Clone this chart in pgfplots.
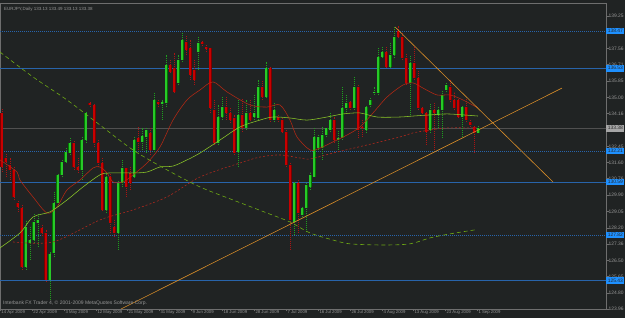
\documentclass[border=0pt]{standalone}
\usepackage{pgfplots}
\pgfplotsset{compat=1.18}
\usepackage{pgfplotstable}
\usepackage{fontspec}
\setmainfont{Liberation Sans}
\definecolor{bg}{RGB}{32,35,35}
\definecolor{frame}{RGB}{110,110,110}
\definecolor{txt}{RGB}{150,150,150}
\definecolor{bullbody}{RGB}{40,200,40}
\definecolor{bulledge}{RGB}{0,120,0}
\definecolor{bullwick}{RGB}{30,160,30}
\definecolor{bearbody}{RGB}{200,0,0}
\definecolor{bearedge}{RGB}{120,0,0}
\definecolor{bearwick}{RGB}{170,20,20}
\definecolor{hline}{RGB}{40,100,170}
\definecolor{hbox}{RGB}{30,144,255}
\definecolor{pline}{RGB}{80,80,80}
\definecolor{mared}{RGB}{180,40,20}
\definecolor{magreen}{RGB}{140,200,40}
\definecolor{mareddash}{RGB}{170,40,30}
\definecolor{magreendash}{RGB}{110,170,20}
\definecolor{trend}{RGB}{215,140,40}
\newcommand{\tf}{\fontsize{4.9}{5.5}\selectfont}
\newcommand{\df}{\fontsize{4.3}{5}\selectfont}
\newcommand{\bl}[1]{{\setlength{\fboxsep}{1pt}\colorbox{hbox}{\rule[-1pt]{0pt}{4.8pt}\makebox[15.5pt][l]{\hspace{0.8pt}\color{black!85}#1}}}}
\newcommand{\gl}[1]{{\setlength{\fboxsep}{1pt}\colorbox{black!35}{\rule[-1pt]{0pt}{4.8pt}\makebox[15.5pt][l]{\hspace{0.8pt}\color{black!85}#1}}}}

\pgfplotstableread{
i o h l c
0 134.19 134.45 131.11 131.37
1 131.84 132.10 130.85 131.63
2 131.48 131.84 130.69 131.22
3 131.22 131.37 129.65 129.81
4 129.49 129.65 129.03 129.29
5 129.23 129.39 126.00 126.16
10 128.19 128.35 127.77 127.93
11 127.93 128.09 125.37 125.48
18 132.62 132.78 131.22 131.37
19 131.37 131.89 131.06 131.22
22 134.71 134.76 134.50 134.61
23 134.61 134.71 132.42 132.62
24 132.62 132.78 131.37 131.58
25 131.58 131.89 129.08 129.13
27 130.85 131.06 127.93 128.45
28 128.24 128.61 127.72 127.93
31 131.32 131.37 129.81 130.33
32 131.06 131.37 130.17 130.54
34 132.89 133.46 132.26 132.68
37 133.15 133.41 132.00 132.26
39 134.76 134.87 134.50 134.66
42 136.69 136.95 136.28 136.33
43 136.54 137.32 135.23 135.29
46 137.89 138.26 137.22 137.48
47 137.58 138.00 135.91 136.17
48 136.43 136.95 135.65 135.91
50 137.89 138.00 137.69 137.79
51 137.63 137.74 137.37 137.53
52 137.58 137.63 134.19 134.45
53 134.35 134.87 132.52 132.62
56 134.50 135.02 133.82 134.19
57 134.19 134.50 133.67 133.82
58 133.93 134.09 132.00 132.10
60 134.09 134.97 133.20 133.41
62 134.19 134.87 133.77 133.82
65 135.55 135.91 134.87 135.02
67 136.54 136.59 133.72 133.82
69 133.98 134.09 133.72 133.82
70 133.82 133.93 133.15 133.20
71 133.20 133.30 131.37 131.48
72 131.48 131.58 127.04 128.61
74 130.54 130.69 127.93 128.97
83 133.82 133.98 132.62 132.78
87 134.76 134.87 134.35 134.45
89 135.55 135.65 132.89 133.30
90 133.46 133.82 132.94 133.41
96 137.37 137.63 136.54 136.59
99 138.47 138.73 138.10 138.15
100 138.15 138.36 136.95 137.06
101 137.06 137.32 135.65 135.76
103 136.80 137.63 135.91 136.02
104 136.02 136.43 134.35 134.45
105 134.45 134.50 134.14 134.19
106 134.19 134.24 132.52 133.20
108 134.35 134.71 132.26 134.19
112 135.55 135.91 134.76 134.87
113 134.87 135.29 134.35 134.45
114 134.87 134.97 133.93 133.98
116 134.50 134.97 133.72 133.82
117 133.72 133.82 133.46 133.56
118 133.46 133.56 132.10 133.15
}\bear

\pgfplotstableread{
i o h l c
6 126.16 128.61 126.00 128.24
7 127.41 128.24 126.52 127.56
8 127.56 128.97 127.41 128.50
9 128.45 128.97 127.20 128.61
12 125.48 126.94 124.43 126.83
13 126.89 130.07 126.68 129.49
14 129.49 131.06 129.29 130.96
15 130.96 131.74 130.85 131.63
16 131.63 132.36 131.58 132.16
17 132.10 132.89 132.00 132.62
20 131.22 132.94 130.69 132.78
21 132.78 134.24 132.62 134.19
26 129.13 131.06 128.97 130.85
29 127.93 130.69 127.04 130.54
30 130.54 131.74 130.33 131.32
33 130.85 132.94 130.80 132.78
35 132.68 133.41 132.26 132.99
36 132.94 133.41 132.10 133.30
38 132.26 135.29 132.16 134.87
40 134.66 134.87 133.82 134.76
41 134.71 137.22 134.50 136.69
44 135.76 137.22 135.65 136.95
45 136.95 138.36 136.85 138.00
49 137.37 138.15 136.43 137.84
54 132.62 134.61 132.52 133.98
55 133.98 135.02 133.82 134.50
59 132.16 134.87 131.37 134.09
61 133.41 134.87 133.30 134.19
63 133.98 135.13 133.82 134.19
64 133.93 135.91 133.82 135.55
66 135.02 136.85 134.97 136.54
68 133.82 134.71 133.72 134.35
73 128.50 130.59 127.83 130.54
75 128.87 129.29 128.76 129.23
76 129.23 130.54 127.98 130.43
77 130.33 131.11 130.17 130.96
78 130.85 133.41 130.85 132.94
79 132.36 133.04 132.26 132.94
80 132.36 133.46 131.74 133.04
81 133.04 133.46 132.94 133.41
82 133.30 134.19 133.20 133.82
84 132.78 133.30 132.26 132.89
85 132.89 135.55 132.78 134.45
86 134.45 135.13 134.24 134.71
88 134.45 136.07 134.35 135.55
91 133.30 134.61 133.15 134.50
92 134.61 135.02 134.50 134.87
93 135.23 135.55 135.13 135.29
94 135.23 137.58 135.13 137.11
95 137.11 137.63 137.06 137.37
97 136.59 137.89 136.54 137.22
98 137.22 138.68 137.06 138.15
102 135.76 137.22 134.09 136.80
107 133.30 134.71 133.15 134.35
109 134.09 134.50 133.41 134.35
110 134.35 135.39 132.89 135.13
111 135.39 135.76 135.29 135.65
115 133.98 134.61 132.94 134.50
119 133.13 133.49 133.13 133.38
}\bull

\begin{document}
\begin{tikzpicture}
\useasboundingbox (0,0) rectangle (625pt,318pt);
\fill[bg] (0,0) rectangle (625pt,318pt);
\begin{axis}[
  at={(0pt,9pt)}, anchor=south west,
  width=606pt, height=306pt, scale only axis,
  xmin=-0.5, xmax=151, ymin=123.96, ymax=139.93,
  axis line style={frame, line width=0.6pt},
  clip=true,
  tick align=outside,
  major tick length=2.5pt,
  tick style={frame, line width=0.5pt},
  ytick pos=right, xtick pos=bottom,
  yticklabel pos=right,
  ytick={139.25,137.56,136.71,135.86,135.00,134.16,132.45,131.60,130.76,129.90,129.05,128.20,127.36,126.50,125.65,124.80,123.96},
  yticklabels={139.25,137.56,136.71,135.85,135.00,134.16,132.45,131.60,130.76,129.90,129.05,128.20,127.36,126.50,125.65,124.80,123.96},
  yticklabel style={font=\tf, color=txt, anchor=west, inner sep=0.5pt, xshift=-0.5pt},
  xtick={-0.5,7.5,15.5,23.5,31.25,39.25,47.25,55,63,71,79,87,95,102.75,110.75,118.75},
  xticklabels={14 Apr 2009,22 Apr 2009,3 May 2009,12 May 2009,21 May 2009,31 May 2009,9 Jun 2009,18 Jun 2009,28 Jun 2009,7 Jul 2009,16 Jul 2009,26 Jul 2009,4 Aug 2009,13 Aug 2009,23 Aug 2009,1 Sep 2009},
  xticklabel style={font=\df, color=txt, anchor=north west, inner sep=0.5pt, xshift=0.8pt, yshift=1.5pt},
  extra y ticks={138.47,136.53,133.38,132.21,130.59,127.82,125.43},
  extra y tick labels={\bl{138.47},\bl{136.53},\gl{133.38},\bl{132.21},\bl{130.59},\bl{127.82},\bl{125.43}},
  extra y tick style={major tick length=0pt, yticklabel style={font=\tf, inner sep=0pt, xshift=0.3pt}},
  every axis plot/.append style={forget plot},
  axis background/.style={fill=bg},
]
% horizontal levels
\addplot[hline, line width=0.7pt, dash pattern=on 1pt off 1pt] coordinates {(-1,138.47) (152,138.47)};
\addplot[hline, line width=0.7pt] coordinates {(-1,136.53) (152,136.53)};
\addplot[pline, line width=0.6pt] coordinates {(-1,133.38) (152,133.38)};
\addplot[hline, line width=0.7pt, dash pattern=on 1pt off 1pt] coordinates {(-1,132.21) (152,132.21)};
\addplot[hline, line width=0.7pt] coordinates {(-1,130.59) (152,130.59)};
\addplot[hline, line width=0.7pt, dash pattern=on 1pt off 1pt] coordinates {(-1,127.82) (152,127.82)};
\addplot[hline, line width=0.7pt] coordinates {(-1,125.43) (152,125.43)};
% wicks
\addplot[draw=none, mark=none, error bars/.cd, y dir=plus, y explicit, error mark=none,
  error bar style={draw=bullwick, line width=0.8pt, dash pattern=on 1pt off 1pt}]
  table[x=i, y=l, y error plus expr=\thisrow{h}-\thisrow{l}] {\bull};
\addplot[draw=none, mark=none, error bars/.cd, y dir=plus, y explicit, error mark=none,
  error bar style={draw=bearwick, line width=0.8pt, dash pattern=on 1pt off 1pt}]
  table[x=i, y=l, y error plus expr=\thisrow{h}-\thisrow{l}] {\bear};
% bodies
\addplot[draw=none, mark=none, error bars/.cd, y dir=plus, y explicit, error mark=none,
  error bar style={draw=bulledge, line width=3pt}]
  table[x=i, y=o, y error plus expr=\thisrow{c}-\thisrow{o}] {\bull};
\addplot[draw=none, mark=none, error bars/.cd, y dir=plus, y explicit, error mark=none,
  error bar style={draw=bullbody, line width=1.6pt}]
  table[x=i, y=o, y error plus expr=\thisrow{c}-\thisrow{o}] {\bull};
\addplot[draw=none, mark=none, error bars/.cd, y dir=plus, y explicit, error mark=none,
  error bar style={draw=bearedge, line width=3pt}]
  table[x=i, y=c, y error plus expr=\thisrow{o}-\thisrow{c}] {\bear};
\addplot[draw=none, mark=none, error bars/.cd, y dir=plus, y explicit, error mark=none,
  error bar style={draw=bearbody, line width=1.6pt}]
  table[x=i, y=c, y error plus expr=\thisrow{o}-\thisrow{c}] {\bear};
% moving averages
\addplot[mared, line width=0.55pt, smooth] coordinates {
(-0.5,131.74) (3.75,131.11) (4.5,130.69) (7.75,129.81) (11.25,128.97) (13.75,129.29) (16.25,130.17) (19.5,130.69) (22.75,131.32) (24.5,131.37) (26.25,131.06) (27.75,130.59) (30.25,130.59) (32.75,130.96) (36.25,131.58) (39.5,132.42) (42.75,133.82) (46.25,134.87) (49.5,135.39) (52.75,135.81) (56.25,135.29) (62,134.61) (66.25,134.50) (69.5,134.61) (72,133.82) (73.75,132.94) (77,132.26) (79.5,132.36) (82.75,132.68) (86.25,133.04) (89.5,133.46) (92.75,134.19) (96.25,135.02) (100.25,135.65) (102.75,135.76) (105.25,135.49) (108.75,135.13) (112,135.13) (115.25,134.87) (119,134.45)};
\addplot[magreen, line width=0.55pt, smooth] coordinates {
(-0.5,127.15) (4.5,127.93) (7.75,128.76) (12,129.03) (16.25,129.65) (20.25,130.33) (24.5,130.96) (27,131.06) (32.75,131.06) (36.25,131.11) (39.5,131.37) (42.75,131.42) (46.25,131.74) (49.5,132.10) (54.5,132.78) (59.5,133.46) (64.5,133.82) (67.75,133.98) (72,133.93) (76.25,133.82) (81.25,133.98) (85.25,134.14) (89.5,134.19) (93.75,133.98) (99.5,133.98) (102.75,134.03) (107,134.09) (111.25,134.14) (115.25,134.09) (119,134.03)};
\addplot[mareddash, line width=0.6pt, dash pattern=on 2pt off 2pt, smooth] coordinates {
(2.75,127.46) (12.75,127.46) (24.5,128.61) (32.75,129.13) (41.25,129.81) (49.5,130.85) (59.5,131.58) (64.5,131.89) (69.5,132.00) (74.5,131.84) (77,131.79) (82.75,132.10) (91.25,132.52) (99.5,132.94) (102.75,133.15) (107,133.30) (111.25,133.41) (118.75,133.41)};
\addplot[magreendash, line width=0.6pt, dash pattern=on 4pt off 3pt, smooth] coordinates {
(-0.5,137.37) (7.75,136.07) (16.25,134.87) (24.5,133.56) (32.75,132.26) (41.25,131.22) (49.5,130.33) (57.75,129.65) (66.25,128.97) (72,128.50) (77,127.93) (82.75,127.56) (87,127.36) (95.25,127.30) (102,127.36) (107,127.67) (112,127.88) (118.25,128.09)};
% trend lines
\addplot[trend, line width=0.6pt] coordinates {(29.75,123.96) (140,135.49)};
\addplot[trend, line width=0.6pt] coordinates {(98.25,138.68) (137.75,130.59)};
\node[font=\fontsize{4.5}{5}\selectfont, color=txt, anchor=north west, inner sep=0pt] at (rel axis cs:0,1) [xshift=4pt, yshift=-4.5pt] {EURJPY,Daily 133.13 133.49 133.13 133.38};
\node[font=\fontsize{5}{5.5}\selectfont, color=txt, anchor=south west, inner sep=0pt] at (rel axis cs:0,0) [xshift=3pt, yshift=3pt] {Interbank FX Trader 4, © 2001-2009 MetaQuotes Software Corp.};
\end{axis}
\end{tikzpicture}
\end{document}
